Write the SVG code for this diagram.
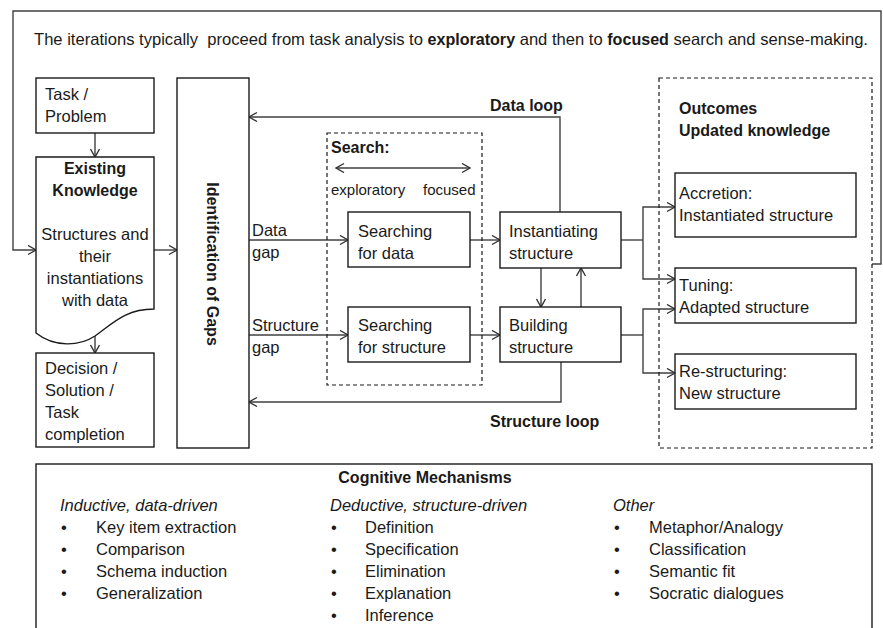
<svg xmlns="http://www.w3.org/2000/svg" width="883" height="628" viewBox="0 0 883 628">
<defs>
<marker id="ah" markerUnits="userSpaceOnUse" markerWidth="12" markerHeight="12" refX="9" refY="5" orient="auto-start-reverse">
<path d="M1,0.5 L9,5 L1,9.5" fill="none" stroke="#333" stroke-width="1.4"/>
</marker>
<style>
text{font-family:"Liberation Sans",Arial,sans-serif;font-size:16.5px;fill:#1a1a1a}
.b{font-weight:bold;font-size:16px}
.i{font-style:italic}
.s{font-size:15px}
.box{fill:#fff;stroke:#1a1a1a;stroke-width:1.4}
.dash{fill:none;stroke:#1a1a1a;stroke-width:1.2;stroke-dasharray:4,3}
.ln{fill:none;stroke:#404040;stroke-width:1.4}
.ar{fill:none;stroke:#404040;stroke-width:1.4;marker-end:url(#ah)}
</style>
</defs>
<rect width="883" height="628" fill="#fff"/>
<text x="34" y="45" textLength="834" lengthAdjust="spacingAndGlyphs">The iterations typically&#160; proceed from task analysis to <tspan class="b">exploratory</tspan> and then to <tspan class="b">focused</tspan> search and sense-making.</text>

<g id="connectors">
<path class="ar" d="M872,264 H881 V11 H13 V250 H36"/>
<path class="ar" d="M95,133 V157"/>
<path class="ar" d="M95,336 V353"/>
<path class="ar" d="M154,250 H177"/>
<path class="ar" d="M249,240 H348"/>
<path class="ar" d="M249,335 H348"/>
<path class="ar" d="M470,240 H500"/>
<path class="ar" d="M470,335 H500"/>
<path class="ar" d="M560,212 V117 H249"/>
<path class="ar" d="M561,362 V402 H249"/>
<path class="ar" d="M541,268 V307"/>
<path class="ar" d="M581,307 V268"/>
<path class="ln" d="M621,240 H643"/>
<path class="ar" d="M643,240 V207 H675"/>
<path class="ar" d="M643,240 V279 H675"/>
<path class="ln" d="M621,335 H643"/>
<path class="ar" d="M643,335 V309 H675"/>
<path class="ar" d="M643,335 V373 H675"/>
</g>

<g id="task">
<rect class="box" x="36" y="78" width="118" height="55"/>
<text x="45" y="100">Task /</text>
<text x="45" y="122">Problem</text>
</g>

<g id="existing-knowledge">
<path class="box" d="M36,157 H154 V309 C125,309 112,324 95,336 C80,346 55,348 36,333 Z"/>
<text class="b" x="95" y="174" text-anchor="middle">Existing</text>
<text class="b" x="95" y="196" text-anchor="middle">Knowledge</text>
<text x="95" y="240" text-anchor="middle">Structures and</text>
<text x="95" y="262" text-anchor="middle">their</text>
<text x="95" y="284" text-anchor="middle">instantiations</text>
<text x="95" y="306" text-anchor="middle">with data</text>
</g>

<g id="decision">
<rect class="box" x="36" y="353" width="118" height="94"/>
<text x="45" y="374">Decision /</text>
<text x="45" y="396">Solution /</text>
<text x="45" y="418">Task</text>
<text x="45" y="440">completion</text>
</g>

<g id="gaps">
<rect class="box" x="177" y="78" width="72" height="370"/>
<text class="b" transform="translate(207,264) rotate(90)" text-anchor="middle">Identification of Gaps</text>
</g>

<g id="gap-labels">
<text x="252" y="236">Data</text>
<text x="252" y="258">gap</text>
<text x="252" y="331">Structure</text>
<text x="252" y="353">gap</text>
</g>

<g id="loop-labels">
<text class="b" x="490" y="111">Data loop</text>
<text class="b" x="490" y="427">Structure loop</text>
</g>

<g id="search">
<rect class="dash" x="327" y="133" width="155" height="252"/>
<text class="b" x="331" y="153">Search:</text>
<path class="ar" d="M336,168 H470" marker-start="url(#ah)"/>
<text class="s" x="331" y="195">exploratory</text>
<text class="s" x="423" y="195">focused</text>
</g>

<g id="searching-data">
<rect class="box" x="348" y="212" width="122" height="55"/>
<text x="358" y="237">Searching</text>
<text x="358" y="259">for data</text>
</g>

<g id="searching-structure">
<rect class="box" x="348" y="307" width="122" height="55"/>
<text x="358" y="331">Searching</text>
<text x="358" y="353">for structure</text>
</g>

<g id="instantiating">
<rect class="box" x="500" y="212" width="121" height="56"/>
<text x="509" y="237">Instantiating</text>
<text x="509" y="259">structure</text>
</g>

<g id="building">
<rect class="box" x="500" y="307" width="121" height="55"/>
<text x="509" y="331">Building</text>
<text x="509" y="353">structure</text>
</g>

<g id="outcomes">
<rect class="dash" x="659" y="78" width="213" height="370"/>
<text class="b" x="679" y="114">Outcomes</text>
<text class="b" x="679" y="136">Updated knowledge</text>
</g>

<g id="accretion">
<rect class="box" x="675" y="173" width="181" height="64"/>
<text x="679" y="199">Accretion:</text>
<text x="679" y="221">Instantiated structure</text>
</g>

<g id="tuning">
<rect class="box" x="675" y="268" width="181" height="55"/>
<text x="679" y="291">Tuning:</text>
<text x="679" y="313">Adapted structure</text>
</g>

<g id="restructuring">
<rect class="box" x="675" y="354" width="181" height="55"/>
<text x="679" y="377">Re-structuring:</text>
<text x="679" y="399">New structure</text>
</g>

<g id="cognitive">
<rect class="box" x="36" y="464" width="836" height="180"/>
<text class="b" x="425" y="483" text-anchor="middle">Cognitive Mechanisms</text>
<text class="i" x="60" y="511">Inductive, data-driven</text>
<text x="61" y="533">•</text><text x="96" y="533">Key item extraction</text>
<text x="61" y="555">•</text><text x="96" y="555">Comparison</text>
<text x="61" y="577">•</text><text x="96" y="577">Schema induction</text>
<text x="61" y="599">•</text><text x="96" y="599">Generalization</text>
<text class="i" x="330" y="511">Deductive, structure-driven</text>
<text x="331" y="533">•</text><text x="365" y="533">Definition</text>
<text x="331" y="555">•</text><text x="365" y="555">Specification</text>
<text x="331" y="577">•</text><text x="365" y="577">Elimination</text>
<text x="331" y="599">•</text><text x="365" y="599">Explanation</text>
<text x="331" y="621">•</text><text x="365" y="621">Inference</text>
<text class="i" x="613" y="511">Other</text>
<text x="614" y="533">•</text><text x="649" y="533">Metaphor/Analogy</text>
<text x="614" y="555">•</text><text x="649" y="555">Classification</text>
<text x="614" y="577">•</text><text x="649" y="577">Semantic fit</text>
<text x="614" y="599">•</text><text x="649" y="599">Socratic dialogues</text>
</g>
</svg>
